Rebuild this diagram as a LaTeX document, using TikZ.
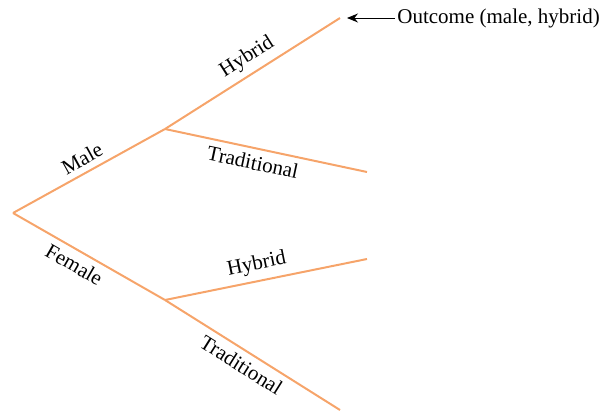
\documentclass[tikz,border=0pt]{standalone}
\usepackage{fontspec}
\setmainfont{Liberation Serif}
\usepackage{tikz}
\usetikzlibrary{arrows.meta,positioning}
\definecolor{branch}{RGB}{246,164,106}

\begin{document}
\begin{tikzpicture}[
    x=0.5pt, y=-0.5pt,
    font=\fontsize{10.5}{12.5}\selectfont,
    branch/.style={draw=branch, line width=1pt},
    lab/.style={sloped, inner sep=3pt},
    arrow/.style={-{Stealth[length=5.5pt,width=4.5pt]}, line width=0.5pt}
]
\useasboundingbox (0,0) rectangle (603,412);
\coordinate (root) at (13,213);
\coordinate (male) at (165,129);
\coordinate (female) at (165,300);
\coordinate (mh) at (340,18);
\coordinate (mt) at (367,172);
\coordinate (fh) at (367,259);
\coordinate (ft) at (340,410);
\coordinate (tip) at (347,18);
\node[anchor=west, inner sep=0pt] (outcome) at (397,18) {Outcome (male, hybrid)};

\draw[branch] (root) -- node[lab, above, pos=0.5] {Male} (male);
\draw[branch] (root) -- node[lab, below, pos=0.45] {Female} (female);
\draw[branch] (male) -- node[lab, above, pos=0.52] {Hybrid} (mh);
\draw[branch] (male) -- node[lab, below, pos=0.45] {Traditional} (mt);
\draw[branch] (female) -- node[lab, above, pos=0.47] {Hybrid} (fh);
\draw[branch] (female) -- node[lab, below, pos=0.48] {Traditional} (ft);

\draw[arrow] (outcome.west) ++(-2,0) -- (tip);
\end{tikzpicture}
\end{document}
